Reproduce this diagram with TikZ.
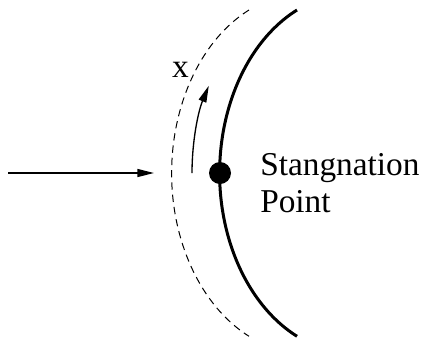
\documentclass[tikz,border=0pt]{standalone}
\usepackage{fontspec}
\setmainfont{Liberation Serif}
\usepackage{tikz}
\usetikzlibrary{arrows.meta,positioning}

\begin{document}
\begin{tikzpicture}[
  x=0.75pt,y=-0.75pt,
  flow/.style={line width=1pt,-{Triangle[length=12.5pt,width=6pt]}},
  body/.style={line width=2.25pt},
  layer/.style={line width=0.75pt,dash pattern=on 5.5pt off 3.75pt},
  dot/.style={circle,fill,inner sep=0pt,minimum size=16.5pt},
  lbl/.style={font=\fontsize{25}{27.75}\selectfont,inner sep=0pt,align=left},
  nose/.style={x radius=134,y radius=180}
]
\useasboundingbox (0,0) rectangle (425,337);
% body surface and boundary layer edge
\draw[body] (297,10) arc[nose,start angle=245,end angle=115];
\draw[layer] (249,10) arc[nose,start angle=245,end angle=115];
\node[dot] (stag) at (220,173) {};
\node[lbl,anchor=base west] (stagtxt) at (260,212) {Stangnation\\Point};
% incoming flow
\coordinate (inflow) at (8,173);
\coordinate (inflowend) at (154,173);
\draw[flow] (inflow) -- (inflowend);
% coordinate along the surface
\coordinate (xstart) at (192,173);
\draw[flow] (xstart) arc[nose,start angle=180,end angle=209];
\node[lbl,anchor=base] (xlbl) at (180.5,77) {x};
\end{tikzpicture}
\end{document}
